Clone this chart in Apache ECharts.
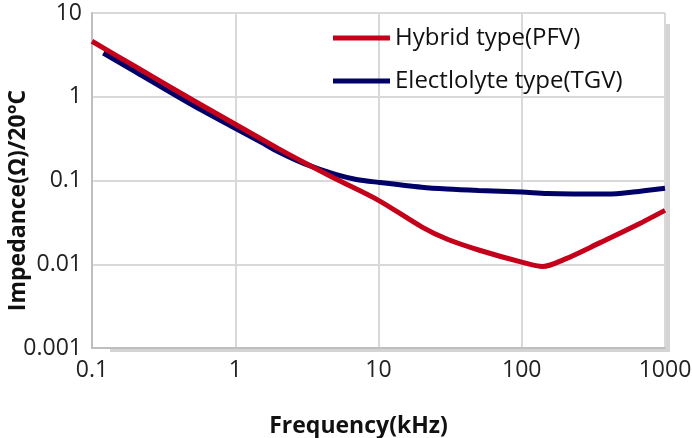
<!DOCTYPE html>
<html><head><meta charset="utf-8">
<script src="https://cdn.jsdelivr.net/npm/echarts@6/dist/echarts.min.js"></script>
<style>html,body{margin:0;padding:0;background:#fff}#c{width:692px;height:438px}</style>
</head><body><div id="c"></div>
<script>
const seriesNames = ['Hybrid type(PFV)', 'Electlolyte type(TGV)'];
const hybridFreq = [0.1, 0.2, 0.5, 1, 2, 3, 5, 10, 20, 30, 50, 100, 140, 200, 350, 600, 1000];
const hybridImp  = [4.6, 2.3, 0.92, 0.47, 0.24, 0.165, 0.105, 0.058, 0.028, 0.02, 0.0148, 0.0106, 0.0094, 0.0115, 0.018, 0.028, 0.044];
const tgvFreq = [0.12, 0.2, 0.5, 1, 1.5, 2, 3, 5, 7, 10, 20, 30, 50, 100, 150, 400, 600, 1000];
const tgvImp  = [3.33, 2.0, 0.8, 0.42, 0.29, 0.22, 0.16, 0.118, 0.103, 0.095, 0.083, 0.079, 0.076, 0.073, 0.070, 0.069, 0.073, 0.081];
const xTicks = [0.1, 1, 10, 100, 1000];
const yTicks = [0.001, 0.01, 0.1, 1, 10];

const pairs = (xs, ys) => xs.map((x, i) => [x, ys[i]]);
const font = '"Open Sans", "Noto Sans", sans-serif';
const fmt = ticks => v => { const m = ticks.find(t => Math.abs(Math.log10(t) - Math.log10(v)) < 1e-6); return m === undefined ? '' : String(m); };
const chart = echarts.init(document.getElementById('c'), null, {renderer: 'canvas'});
chart.setOption({
  animation: false,
  textStyle: {fontFamily: font},
  grid: [
    {left: 110, right: 22, top: 24, bottom: 86, show: true, backgroundColor: '#d4d4d4', borderWidth: 0, containLabel: false, outerBoundsMode: 'none'},
    {left: 92, right: 27, top: 13, bottom: 90, show: true, backgroundColor: '#fff', borderWidth: 0, containLabel: false, outerBoundsMode: 'none'}
  ],
  legend: {
    orient: 'vertical', left: 328, top: 21, itemGap: 19, itemWidth: 57, itemHeight: 5, icon: 'rect',
    textStyle: {fontSize: 24, color: '#111', fontFamily: font, padding: [0, 0, 0, 0]},
    data: seriesNames
  },
  xAxis: [
    {gridIndex: 0, type: 'value', show: false, min: 0, max: 1},
    {
      gridIndex: 1, type: 'log', logBase: 10, min: xTicks[0], max: xTicks[xTicks.length - 1],
      name: 'Frequency(kHz)', nameLocation: 'middle', nameGap: 67, nameMoveOverlap: false,
      nameTextStyle: {fontSize: 23, fontWeight: 'bold', color: '#111', padding: [0, 40, 0, 0]},
      axisLine: {show: true, onZero: false, lineStyle: {color: '#bfbfbf', width: 2}},
      axisTick: {show: false},
      axisLabel: {fontSize: 23, color: '#222', margin: 11, formatter: fmt(xTicks)},
      splitLine: {show: true, lineStyle: {color: '#d9d9d9', width: 2}},
      minorTick: {show: false}
    }
  ],
  yAxis: [
    {gridIndex: 0, type: 'value', show: false, min: 0, max: 1},
    {
      gridIndex: 1, type: 'log', logBase: 10, min: yTicks[0], max: yTicks[yTicks.length - 1],
      name: 'Impedance(Ω)/20°C', nameLocation: 'middle', nameGap: 62, nameRotate: 90, nameMoveOverlap: false,
      nameTextStyle: {fontSize: 23, fontWeight: 'bold', color: '#111', padding: [0, 40, 0, 0]},
      axisLine: {show: true, lineStyle: {color: '#bfbfbf', width: 2}},
      axisTick: {show: false},
      axisLabel: {fontSize: 23, color: '#222', margin: 10, formatter: fmt(yTicks)},
      splitLine: {show: true, lineStyle: {color: '#d9d9d9', width: 2}}
    }
  ],
  series: [
    {name: seriesNames[0], type: 'line', xAxisIndex: 1, yAxisIndex: 1, smooth: 0.3, showSymbol: false, z: 3,
     data: pairs(hybridFreq, hybridImp), itemStyle: {color: '#c4001a'}, lineStyle: {color: '#c4001a', width: 5}},
    {name: seriesNames[1], type: 'line', xAxisIndex: 1, yAxisIndex: 1, smooth: 0.3, showSymbol: false, z: 2,
     data: pairs(tgvFreq, tgvImp), itemStyle: {color: '#000068'}, lineStyle: {color: '#000068', width: 5}}
  ]
});
</script></body></html>
